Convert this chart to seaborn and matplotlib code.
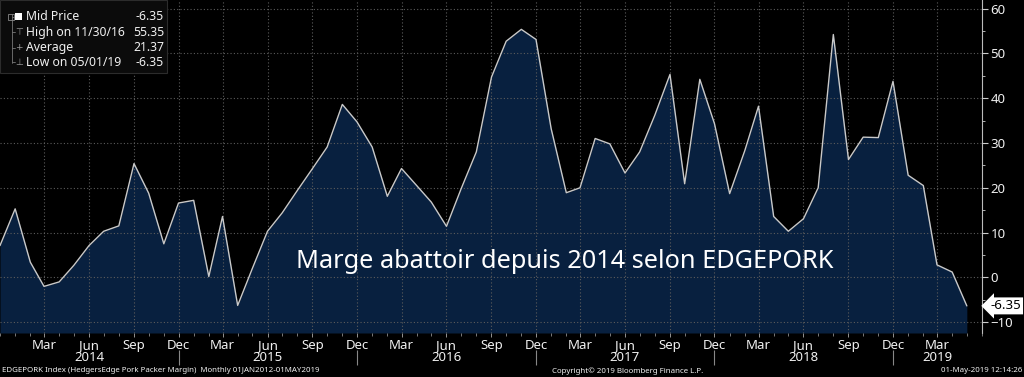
import numpy as np
import pandas as pd
import matplotlib
matplotlib.use("Agg")
import matplotlib.pyplot as plt
import matplotlib.dates as mdates
from matplotlib.patches import Rectangle
import seaborn as sns

# monthly EDGEPORK packer margin, Dec 2013 -> May 2019
months = pd.date_range("2013-12-01", "2019-05-01", freq="MS")
margin = [7.1, 15.3, 3.4, -2.0, -1.0, 2.7, 7.1, 10.3, 11.5, 25.4, 18.8, 7.5,
          16.6, 17.2, 0.2, 13.6, -6.25, 2.0, 10.3, 14.4, 19.4, 24.3, 29.1, 38.6,
          34.7, 29.1, 18.1, 24.3, 20.5, 16.8, 11.4, 19.8, 28.0, 44.7, 52.7, 55.35,
          53.1, 33.2, 18.9, 20.0, 31.0, 29.8, 23.3, 28.0, 36.2, 45.3, 20.9, 44.2,
          34.3, 18.7, 28.3, 38.2, 13.6, 10.3, 13.1, 20.0, 54.2, 26.3, 31.3, 31.2,
          43.75, 22.8, 20.5, 2.8, 1.2, -6.35]

legend_labels = ["Mid Price", "High on 11/30/16", "Average", "Low on 05/01/19"]
legend_values = ["-6.35", "55.35", "21.37", "-6.35"]
legend_icons = ["", "\u22a4", "+", "\u22a5"]

quarter_ticks = pd.date_range("2014-03-01", "2019-03-01", freq="3MS")
year_labels = ["2014", "2015", "2016", "2017", "2018", "2019"]
year_centers = ["2014-06-01", "2015-06-01", "2016-06-01", "2017-06-01", "2018-06-01", "2019-03-01"]
year_breaks = ["2014-12-01", "2015-12-01", "2016-12-01", "2017-12-01", "2018-12-01"]
y_ticks = [-10, 0, 10, 20, 30, 40, 50, 60]

title_text = "Marge abattoir depuis 2014 selon EDGEPORK"
footer_left = "EDGEPORK Index (HedgersEdge Pork Packer Margin)  Monthly 01JAN2012-01MAY2019"
footer_mid = "Copyright\u00a9 2019 Bloomberg Finance L.P."
footer_right = "01-May-2019 12:14:26"

fill_col = "#08203f"
line_col = "#c9c9c9"
grid_col = "#5c5c5c"
txt_col = "#f0f0f0"

sns.set_theme(style="dark", rc={"axes.facecolor": "black", "figure.facecolor": "black",
                                "axes.edgecolor": "#bbbbbb", "text.color": txt_col,
                                "xtick.color": "#aaaaaa", "ytick.color": "#cccccc",
                                "xtick.labelcolor": txt_col, "ytick.labelcolor": txt_col})
plt.rcParams["font.family"] = ["Noto Sans", "DejaVu Sans"]

fig = plt.figure(figsize=(10.24, 3.77), dpi=100)
ax = fig.add_axes([0, 44 / 377, 982 / 1024, 333 / 377])

ymin, ymax = -12.4, 61.9
df = pd.DataFrame({"date": months, "margin": margin})
ax.fill_between(df["date"], df["margin"], ymin, color=fill_col, lw=0, zorder=1)
sns.lineplot(data=df, x="date", y="margin", ax=ax, color=line_col, lw=1.0, zorder=3)

ax.set_xlim(pd.Timestamp("2013-12-01"), pd.Timestamp("2019-06-01"))
ax.set_ylim(ymin, ymax)
ax.set_xlabel("")
ax.set_ylabel("")

# right-hand value axis
ax.yaxis.tick_right()
ax.set_yticks(y_ticks)
ax.set_yticks(np.arange(-10, 61, 5), minor=True)
ax.tick_params(axis="y", which="major", direction="out", length=4, width=0.8,
               labelsize=9.5, pad=2, right=True, left=False)
ax.tick_params(axis="y", which="minor", direction="out", length=2, width=0.6, right=True, left=False)

# month axis
ax.set_xticks([mdates.date2num(d) for d in quarter_ticks])
ax.xaxis.set_major_formatter(mdates.DateFormatter("%b"))
ax.xaxis.set_minor_locator(mdates.MonthLocator())
ax.tick_params(axis="x", which="major", direction="out", length=3, width=0.6,
               labelsize=9.5, pad=1, bottom=True)
ax.tick_params(axis="x", which="minor", direction="out", length=2, width=0.5, bottom=True)

for s in ["top", "left", "bottom"]:
    ax.spines[s].set_visible(False)
ax.spines["right"].set_color("#bbbbbb")
ax.spines["right"].set_linewidth(0.8)

ax.grid(True, which="major", color=grid_col, linestyle=(0, (1, 2)), linewidth=0.8)
ax.set_axisbelow(False)
for gl in ax.get_xgridlines() + ax.get_ygridlines():
    gl.set_zorder(2)

# year labels and year separators
yr = ax.secondary_xaxis("bottom")
yr.set_xticks([mdates.date2num(pd.Timestamp(d)) for d in year_centers], labels=year_labels)
yr.tick_params(length=0, pad=13, labelsize=9.5, labelcolor=txt_col)
yr.spines["bottom"].set_visible(False)

sep = ax.secondary_xaxis(-17 / 333)
sep.set_xticks([mdates.date2num(pd.Timestamp(d)) for d in year_breaks], labels=[""] * len(year_breaks))
sep.tick_params(length=11, width=0.8, color="#888888", direction="out")
sep.spines["bottom"].set_visible(False)

# last value tag
ax.annotate(legend_values[0], xy=(1.0, margin[-1]), xycoords=("axes fraction", "data"),
            xytext=(6, 0), textcoords="offset points", ha="left", va="center",
            fontsize=9.5, color="black",
            bbox=dict(boxstyle="larrow,pad=0.15", fc="white", ec="none"),
            annotation_clip=False)

# big overlay text
ax.text(565 / 982, (333 - 262) / 333, title_text, transform=ax.transAxes,
        ha="center", va="center", fontsize=18.2, color="white", zorder=5)

# legend panel (top-left)
fig.patches.append(Rectangle((0, 1 - 73 / 377), 167 / 1024, 73 / 377, transform=fig.transFigure,
                             fc="#0b0b0b", ec="#2c2c2c", lw=0.8, zorder=10))
fig.lines.append(plt.Line2D([12 / 1024, 12 / 1024], [1 - 14 / 377, 1 - 63 / 377],
                            transform=fig.transFigure, color="#777777", lw=0.6, zorder=11))
row_y = [16.7, 32.3, 47.7, 62.3]
for lab, val, ic, yy in zip(legend_labels, legend_values, legend_icons, row_y):
    fy = 1 - yy / 377
    fig.text(26 / 1024, fy, lab, ha="left", va="center", fontsize=8.8, color=txt_col, zorder=12)
    fig.text(164 / 1024, fy, val, ha="right", va="center", fontsize=8.8, color=txt_col, zorder=12)
    if ic:
        fig.text(19 / 1024, fy, ic, ha="center", va="center", fontsize=6.5, color="#999999",
                 family=["DejaVu Sans"], zorder=12)
    fig.lines.append(plt.Line2D([12 / 1024, 15 / 1024], [fy, fy], transform=fig.transFigure,
                                color="#777777", lw=0.6, zorder=11))
fig.patches.append(Rectangle((15 / 1024, 1 - 20 / 377), 7 / 1024, 7 / 377, transform=fig.transFigure,
                             fc="white", ec="none", zorder=12))
fig.patches.append(Rectangle((8 / 1024, 1 - 19.5 / 377), 6 / 1024, 6 / 377, transform=fig.transFigure,
                             fc="none", ec="#888888", lw=0.6, zorder=12))

# footer
fig.text(2 / 1024, 6 / 377, footer_left, ha="left", va="center", fontsize=5.7, color=txt_col)
fig.text(628 / 1024, 6 / 377, footer_mid, ha="center", va="center", fontsize=5.7, color=txt_col)
fig.text(1022 / 1024, 6 / 377, footer_right, ha="right", va="center", fontsize=5.7, color=txt_col)

fig.savefig("out.png", dpi=100, facecolor="black")
